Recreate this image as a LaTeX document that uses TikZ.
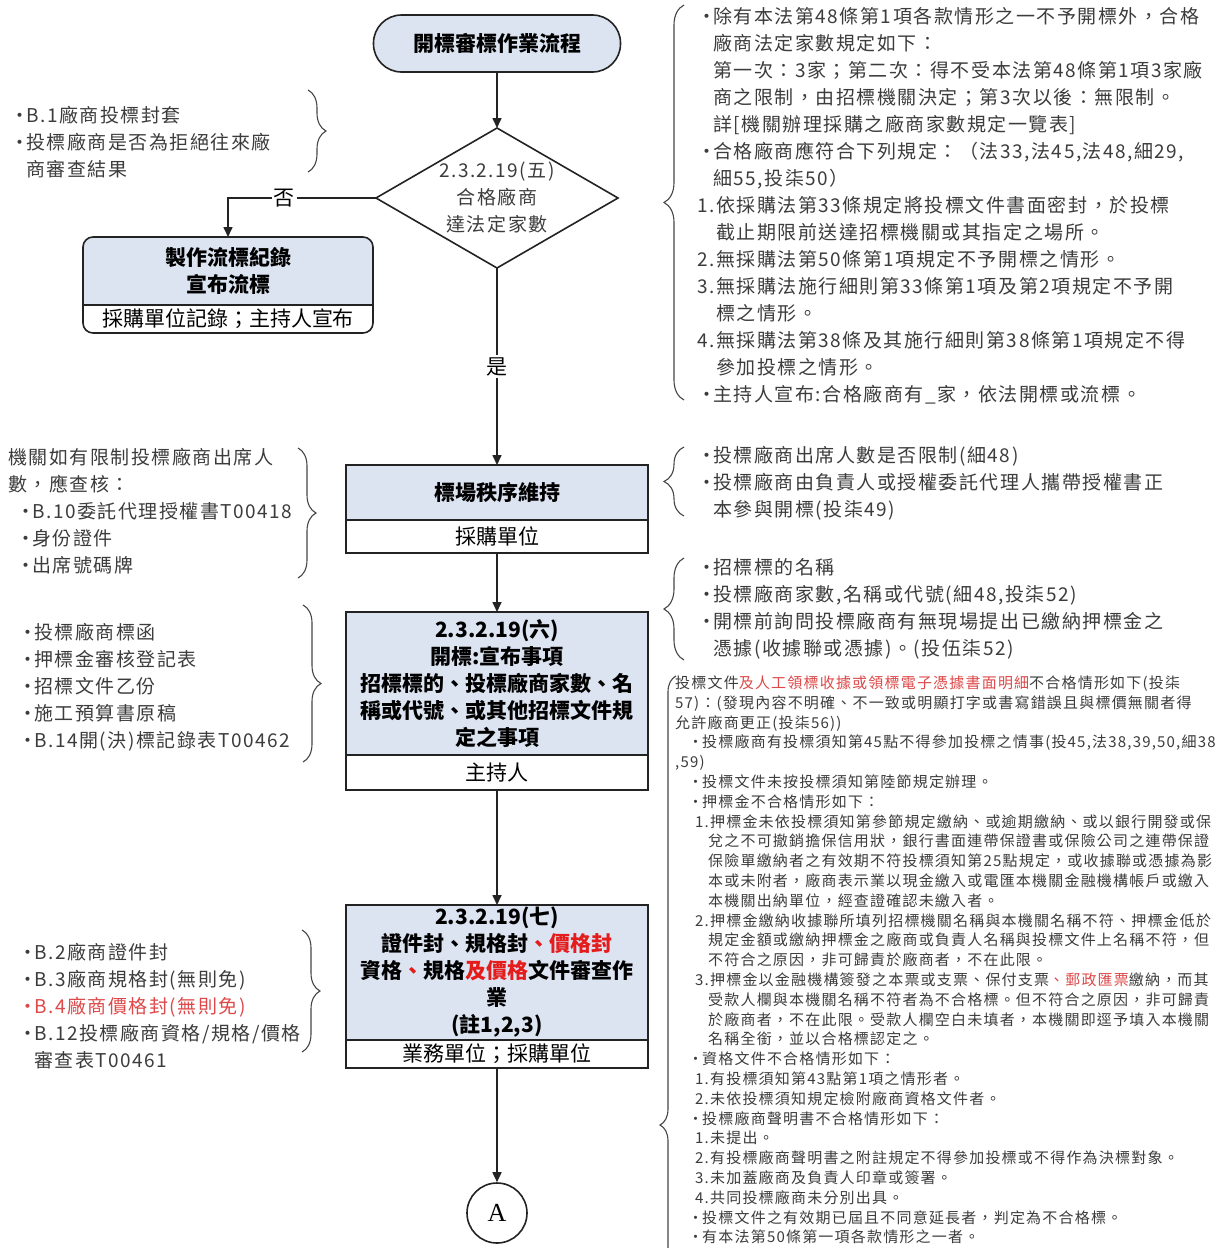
\documentclass[tikz,border=0pt]{standalone}
\usepackage{fontspec}
\setmainfont{Noto Sans CJK TC}
\newfontfamily\notefont{Noto Sans CJK TC}[LetterSpace=8]
\newfontfamily\serifletter{Liberation Serif}
\usetikzlibrary{shapes.geometric,arrows.meta,positioning,backgrounds,decorations.pathreplacing}
\definecolor{boxfill}{RGB}{220,227,241}
\definecolor{linedark}{RGB}{35,35,35}
\definecolor{notegray}{RGB}{60,60,60}
\definecolor{bracegray}{RGB}{70,70,70}
\definecolor{flagred}{RGB}{228,28,28}
\definecolor{notered}{RGB}{222,72,72}

\newcommand{\titlefont}{\fontsize{21}{27}\selectfont\bfseries}
\newcommand{\unitfont}{\fontsize{21}{27}\selectfont}
\newcommand{\notebig}{\notefont\fontsize{19}{27}\selectfont}
\newcommand{\notesmall}{\notefont\fontsize{15}{19.8}\selectfont}
\newcommand{\notebullet}{\makebox[16pt][l]{•}}
\newcommand{\noteindent}{\hspace*{16pt}}
\newcommand{\smallbullet}{\makebox[14pt][l]{•}}

\begin{document}
\begin{tikzpicture}[x=1pt, y=-1pt,
    flowline/.style={draw=linedark, line width=1.6pt},
    arrowline/.style={flowline, -{Triangle[length=10pt,width=9pt]}},
    terminal/.style={draw=linedark, line width=1.6pt, fill=boxfill, rounded corners=28pt,
                     minimum width=247pt, minimum height=57pt, font=\titlefont, outer sep=0pt},
    decision/.style={diamond, draw=linedark, line width=1.6pt, fill=white,
                     minimum width=242pt, minimum height=140pt, inner sep=0pt, outer sep=0pt},
    titlebox/.style={draw=linedark, line width=1.6pt, fill=boxfill, minimum width=302pt,
                     align=center, font=\titlefont, inner sep=0pt, outer sep=0pt},
    unitbox/.style={draw=linedark, line width=1.6pt, fill=white, minimum width=302pt,
                    font=\unitfont, inner sep=0pt, outer sep=0pt},
    noteblock/.style={anchor=north west, align=left, inner sep=0pt, font=\notebig, text=notegray},
    smallblock/.style={noteblock, font=\notesmall},
    notebrace/.style={decorate, decoration={brace, amplitude=#1}, draw=bracegray, line width=1.1pt},
    notebrace/.default=18pt,
    branchlabel/.style={fill=white, inner sep=2pt, font=\unitfont}
]
\useasboundingbox (0,0) rectangle (1228,1248);

% main flow
\node[terminal] (start) at (497,43.5) {開標審標作業流程};
\node[decision] (check) at (497,198) {};
\node[align=center, font=\notebig, text=notegray, inner sep=0pt] (checktext) at (check.center) {2.3.2.19(五)\\合格廠商\\達法定家數};

\node[titlebox, draw=none, fill=none, minimum width=290pt, minimum height=68pt] (failtitle) at (228,271) {製作流標紀錄\\宣布流標};
\node[unitbox, draw=none, fill=none, minimum width=290pt, minimum height=28pt, below=0pt of failtitle] (failunit) {採購單位記錄；主持人宣布};

\node[titlebox, minimum height=55pt] (keep) at (497,492.5) {標場秩序維持};
\node[unitbox, minimum height=33pt, below=0pt of keep] (keepunit) {採購單位};

\node[titlebox, minimum height=143pt] (open) at (497,683.5) {2.3.2.19(六)\\開標:宣布事項\\招標標的、投標廠商家數、名\\稱或代號、或其他招標文件規\\定之事項};
\node[unitbox, minimum height=35pt, below=0pt of open] (openunit) {主持人};

\node[titlebox, minimum height=135pt] (review) at (497,972.5) {2.3.2.19(七)\\證件封、規格封{\color{flagred}、價格封}\\資格{\color{flagred}、}規格{\color{flagred}及價格}文件審查作\\業\\(註1,2,3)};
\node[unitbox, minimum height=28pt, below=0pt of review] (reviewunit) {業務單位；採購單位};

\node[circle, draw=linedark, line width=1.6pt, minimum size=60pt, inner sep=0pt,
      font=\serifletter\fontsize{26}{26}\selectfont] (connA) at (497,1213) {A};

% rounded box of the failed opening
\begin{scope}[on background layer]
  \fill[white] (0,0) rectangle (1228,1248);
  \clip[rounded corners=10pt] (failtitle.north west) rectangle (failunit.south east);
  \fill[boxfill] (failtitle.north west) rectangle (failtitle.south east);
\end{scope}
\draw[flowline, rounded corners=10pt] (failtitle.north west) rectangle (failunit.south east);
\draw[flowline] (failtitle.south west) -- (failtitle.south east);

% connectors
\draw[arrowline] (start.south) -- (check.north);
\draw[arrowline] (check.west) -| node[branchlabel, pos=0.31] (nolabel) {否} (failtitle.north);
\draw[arrowline] (check.south) -- node[branchlabel] (yeslabel) {是} (keep.north);
\draw[arrowline] (keepunit.south) -- (open.north);
\draw[arrowline] (openunit.south) -- (review.north);
\draw[arrowline] (reviewunit.south) -- (connA.north);

% left notes
\node[noteblock] (envnote) at (10,105.5) {\notebullet B.1廠商投標封套\\\notebullet 投標廠商是否為拒絕往來廠\\\noteindent 商審查結果};
\node[noteblock] (attendnote) at (8,447.5) {機關如有限制投標廠商出席人\\數，應查核：\\\hspace*{8pt}\notebullet B.10委託代理授權書T00418\\\hspace*{8pt}\notebullet 身份證件\\\hspace*{8pt}\notebullet 出席號碼牌};
\node[noteblock] (docnote) at (18,622.5) {\notebullet 投標廠商標函\\\notebullet 押標金審核登記表\\\notebullet 招標文件乙份\\\notebullet 施工預算書原稿\\\notebullet B.14開(決)標記錄表T00462};
\node[noteblock] (sealnote) at (18,942.5) {\notebullet B.2廠商證件封\\\notebullet B.3廠商規格封(無則免)\\{\color{notered}\notebullet B.4廠商價格封(無則免)}\\\notebullet B.12投標廠商資格/規格/價格\\\noteindent 審查表T00461};

\draw[notebrace] (308,90) -- (308,172);
\draw[notebrace] (298,448) -- (298,578);
\draw[notebrace] (303,605) -- (303,762);
\draw[notebrace] (302,930) -- (302,1052);

% right notes
\node[noteblock] (quorumnote) at (697,7.5) {\notebullet 除有本法第48條第1項各款情形之一不予開標外，合格\\
\noteindent 廠商法定家數規定如下：\\
\noteindent 第一次：3家；第二次：得不受本法第48條第1項3家廠\\
\noteindent 商之限制，由招標機關決定；第3次以後：無限制。\\
\noteindent 詳[機關辦理採購之廠商家數規定一覽表]\\
\notebullet 合格廠商應符合下列規定：（法33,法45,法48,細29,\\
\noteindent 細55,投柒50）\\
1.依採購法第33條規定將投標文件書面密封，於投標\\
\hspace*{19pt}截止期限前送達招標機關或其指定之場所。\\
2.無採購法第50條第1項規定不予開標之情形。\\
3.無採購法施行細則第33條第1項及第2項規定不予開\\
\hspace*{19pt}標之情形。\\
4.無採購法第38條及其施行細則第38條第1項規定不得\\
\hspace*{19pt}參加投標之情形。\\
\notebullet 主持人宣布:合格廠商有\_家，依法開標或流標。};

\node[noteblock] (attendrule) at (697,445.5) {\notebullet 投標廠商出席人數是否限制(細48)\\
\notebullet 投標廠商由負責人或授權委託代理人攜帶授權書正\\
\noteindent 本參與開標(投柒49)};

\node[noteblock] (announcenote) at (697,558.5) {\notebullet 招標標的名稱\\
\notebullet 投標廠商家數,名稱或代號(細48,投柒52)\\
\notebullet 開標前詢問投標廠商有無現場提出已繳納押標金之\\
\noteindent 憑據(收據聯或憑據)。(投伍柒52)};

\node[smallblock] (rejectnote) at (675,675.5) {投標文件{\color{notered}及人工領標收據或領標電子憑據書面明細}不合格情形如下(投柒\\
57)：(發現內容不明確、不一致或明顯打字或書寫錯誤且與標價無關者得\\
允許廠商更正(投柒56))\\
\hspace*{13pt}\smallbullet 投標廠商有投標須知第45點不得參加投標之情事(投45,法38,39,50,細38\\
,59)\\
\hspace*{13pt}\smallbullet 投標文件未按投標須知第陸節規定辦理。\\
\hspace*{13pt}\smallbullet 押標金不合格情形如下：\\
\hspace*{20pt}1.押標金未依投標須知第參節規定繳納、或逾期繳納、或以銀行開發或保\\
\hspace*{33pt}兌之不可撤銷擔保信用狀，銀行書面連帶保證書或保險公司之連帶保證\\
\hspace*{33pt}保險單繳納者之有效期不符投標須知第25點規定，或收據聯或憑據為影\\
\hspace*{33pt}本或未附者，廠商表示業以現金繳入或電匯本機關金融機構帳戶或繳入\\
\hspace*{33pt}本機關出納單位，經查證確認未繳入者。\\
\hspace*{20pt}2.押標金繳納收據聯所填列招標機關名稱與本機關名稱不符、押標金低於\\
\hspace*{33pt}規定金額或繳納押標金之廠商或負責人名稱與投標文件上名稱不符，但\\
\hspace*{33pt}不符合之原因，非可歸責於廠商者，不在此限。\\
\hspace*{20pt}3.押標金以金融機構簽發之本票或支票、保付支票{\color{notered}、郵政匯票}繳納，而其\\
\hspace*{33pt}受款人欄與本機關名稱不符者為不合格標。但不符合之原因，非可歸責\\
\hspace*{33pt}於廠商者，不在此限。受款人欄空白未填者，本機關即逕予填入本機關\\
\hspace*{33pt}名稱全銜，並以合格標認定之。\\
\hspace*{13pt}\smallbullet 資格文件不合格情形如下：\\
\hspace*{20pt}1.有投標須知第43點第1項之情形者。\\
\hspace*{20pt}2.未依投標須知規定檢附廠商資格文件者。\\
\hspace*{13pt}\smallbullet 投標廠商聲明書不合格情形如下：\\
\hspace*{20pt}1.未提出。\\
\hspace*{20pt}2.有投標廠商聲明書之附註規定不得參加投標或不得作為決標對象。\\
\hspace*{20pt}3.未加蓋廠商及負責人印章或簽署。\\
\hspace*{20pt}4.共同投標廠商未分別出具。\\
\hspace*{13pt}\smallbullet 投標文件之有效期已屆且不同意延長者，判定為不合格標。\\
\hspace*{13pt}\smallbullet 有本法第50條第一項各款情形之一者。};

\draw[notebrace=20pt] (684,400) -- (684,5);
\draw[notebrace=20pt] (684,516) -- (684,447);
\draw[notebrace=20pt] (684,660) -- (684,558);
\draw[notebrace=16pt] (676,1574) -- (676,676);

\end{tikzpicture}
\end{document}
